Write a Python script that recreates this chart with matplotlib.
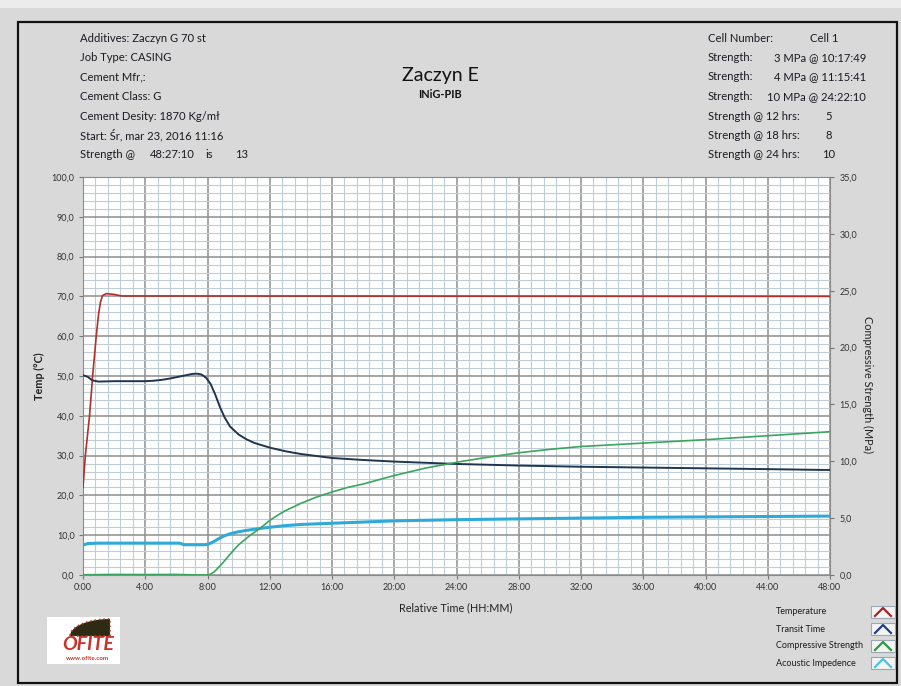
import matplotlib
matplotlib.use("Agg")
import matplotlib.pyplot as plt
from matplotlib.patches import Rectangle, Polygon
from matplotlib.lines import Line2D
from matplotlib.ticker import MultipleLocator, FixedLocator
import numpy as np

plt.rcParams['font.family'] = ['Lato', 'DejaVu Sans']

# --- data (hours since start) ---
temp_t = [0, 0.15, 0.42, 0.62, 0.85, 1.0, 1.12, 1.25, 1.5, 2.0, 2.5, 48]
temp_v = [22, 30, 40, 50, 60, 65.5, 68.5, 70.2, 70.7, 70.5, 70.1, 70.0]

transit_t = [0, 0.3, 0.6, 1.0, 2, 3, 4, 4.5, 5, 5.5, 6, 6.5, 7, 7.3, 7.6, 7.9,
             8.2, 8.5, 8.8, 9.1, 9.45, 10, 10.5, 11, 12, 13, 14, 16, 18, 20,
             22, 24, 28, 32, 36, 40, 44, 47.5, 48]
transit_v = [50.2, 49.8, 48.9, 48.6, 48.7, 48.7, 48.7, 48.8, 49.0, 49.3, 49.7,
             50.1, 50.5, 50.6, 50.4, 49.6, 48.0, 45.3, 42.2, 39.6, 37.3, 35.3,
             34.1, 33.2, 32.0, 31.1, 30.4, 29.4, 28.9, 28.5, 28.2, 27.9, 27.5,
             27.2, 27.0, 26.8, 26.6, 26.4, 26.4]

strength_t = [0, 2, 4, 6, 7.5, 8.0, 8.2, 8.4, 8.6, 8.8, 9.0, 9.25, 9.5, 9.75,
              10.0, 10.3, 10.75, 11.26, 11.6, 12, 12.5, 13, 14, 15, 16, 17, 18,
              20, 22, 24.37, 26, 28, 30, 32, 36, 40, 44, 48]
strength_v = [0.02, 0.05, 0.04, 0.05, 0.0, 0.0, 0.08, 0.25, 0.5, 0.8, 1.1, 1.5,
              1.9, 2.3, 2.65, 3.0, 3.5, 4.0, 4.35, 4.8, 5.25, 5.65, 6.3, 6.85,
              7.3, 7.7, 8.0, 8.75, 9.4, 10.0, 10.35, 10.75, 11.05, 11.3, 11.6,
              11.9, 12.25, 12.6]

acoustic_t = [0, 0.3, 1, 3, 5, 6.2, 6.5, 7.5, 7.8, 8.0, 8.2, 8.45, 8.7, 9.0,
              9.4, 9.9, 10.5, 11.2, 12, 13, 14, 16, 18, 20, 24, 28, 32, 36, 40,
              44, 48]
acoustic_v = [7.5, 7.9, 8.0, 8.0, 8.0, 8.0, 7.6, 7.6, 7.6, 7.7, 8.0, 8.5, 9.1,
              9.7, 10.3, 10.8, 11.2, 11.6, 12.0, 12.4, 12.7, 13.0, 13.3, 13.6,
              13.9, 14.1, 14.3, 14.5, 14.6, 14.7, 14.8]

left_info = ["Additives: Zaczyn G 70 st", "Job Type: CASING", "Cement Mfr,:",
             "Cement Class: G", "Cement Desity: 1870 Kg/m\u0142",
             "Start: \u015ar, mar 23, 2016 11:16"]
strength_at_end = ("48:27:10", "13")
cell_number = "Cell 1"
strength_marks = ["3 MPa @ 10:17:49", "4 MPa @ 11:15:41", "10 MPa @ 24:22:10"]
strength_hrs = [("12", "5"), ("18", "8"), ("24", "10")]

legend_names = ["Temperature", "Transit Time", "Compressive Strength", "Acoustic Impedence"]
c_temp = "#b0302a"
c_transit = "#1f3550"
c_strength = "#3aa55c"
c_acoustic = "#2faad8"
legend_colors = ["#a02828", "#1f3f8a", "#2a9a3a", "#48c4e4"]

W, H = 901, 686
fig = plt.figure(figsize=(W / 100, H / 100), dpi=100, facecolor="#d9d9d9")


def px(x, y):
    return x / W, 1 - y / H


# page strip and frame
fig.patches.append(Rectangle((0, 1 - 8 / H), 1, 8 / H, transform=fig.transFigure,
                             facecolor="#ececec", edgecolor="none", zorder=0))
fx0, fy0 = px(18, 683)
fig.patches.append(Rectangle((fx0, fy0), (897 - 18) / W, (683 - 22) / H,
                             transform=fig.transFigure, fill=False,
                             edgecolor="#111111", linewidth=1.6, zorder=1))

ax = fig.add_axes([83 / W, 1 - 575 / H, 747 / W, 398 / H])
ax.set_facecolor("white")
ax.set_xlim(0, 48)
ax.set_ylim(0, 100)

ax.xaxis.set_major_locator(MultipleLocator(4))
ax.xaxis.set_minor_locator(MultipleLocator(0.8))
ax.yaxis.set_major_locator(MultipleLocator(10))
ax.yaxis.set_minor_locator(MultipleLocator(2))
ax.grid(which="minor", color="#bfcdd8", linewidth=0.8)
ax.grid(which="major", color="#8e8e8e", linewidth=1.1)
ax.set_axisbelow(True)

ax.set_xticklabels([f"{int(h)}:00" for h in ax.get_xticks()])
ax.yaxis.set_major_locator(FixedLocator(np.arange(0, 101, 10)))
ax.set_yticklabels([f"{v:.1f}".replace(".", ",") for v in np.arange(0, 101, 10)])
ax.tick_params(which="major", length=3, width=0.8, color="#777777",
               labelsize=6.5, labelcolor="#333333", pad=3)
ax.tick_params(which="minor", length=0)
for s in ax.spines.values():
    s.set_color("#8a8a8a")

ax2 = ax.twinx()
ax2.set_ylim(0, 35)
ax2.yaxis.set_major_locator(FixedLocator(np.arange(0, 36, 5)))
ax2.set_yticklabels([f"{v:.1f}".replace(".", ",") for v in np.arange(0, 36, 5)])
ax2.tick_params(length=3, width=0.8, color="#777777", labelsize=6.5,
                labelcolor="#333333", pad=4)
for s in ax2.spines.values():
    s.set_visible(False)

ax.plot(temp_t, temp_v, color=c_temp, linewidth=1.2, zorder=3)
ax.plot(transit_t, transit_v, color=c_transit, linewidth=1.4, zorder=3)
ax.plot(acoustic_t, acoustic_v, color=c_acoustic, linewidth=2.2, zorder=3)
ax2.plot(strength_t, strength_v, color=c_strength, linewidth=1.2, zorder=3)

ax.set_ylabel("Temp (\u00b0C)", fontsize=7.8, fontweight="bold", color="#222222")
ax.yaxis.set_label_coords((45 - 83) / 747, 0.5)
ax2.set_ylabel("Compressive Strength (MPa)", fontsize=7.8, rotation=270,
               color="#222222")
ax2.yaxis.set_label_coords((873 - 83) / 747, (575 - 385) / 398)
ax.set_xlabel("Relative Time (HH:MM)", fontsize=7.8, color="#222222")
ax.xaxis.set_label_coords((456 - 83) / 747, -27 / 398)

# header block
tkw = dict(fontsize=8.1, color="#1a1a22", va="center")
ys = [38, 57.5, 77, 96.5, 116, 135.5, 155]
for y, s in zip(ys, left_info):
    fig.text(*px(80, y), s, **tkw)
fig.text(*px(80, ys[6]), "Strength @", **tkw)
fig.text(*px(195, ys[6]), strength_at_end[0], ha="right", **tkw)
fig.text(*px(205, ys[6]), "is", **tkw)
fig.text(*px(242, ys[6]), strength_at_end[1], ha="center", **tkw)

fig.text(*px(440, 76), "Zaczyn E", fontsize=14, ha="center", va="center",
         color="#111111")
fig.text(*px(440, 95), "INiG-PIB", fontsize=7.8, fontweight="bold",
         ha="center", va="center", color="#111111")

fig.text(*px(708, ys[0]), "Cell Number:", **tkw)
fig.text(*px(824, ys[0]), cell_number, ha="center", **tkw)
for y, s in zip(ys[1:4], strength_marks):
    fig.text(*px(708, y), "Strength:", **tkw)
    fig.text(*px(866, y), s, ha="right", **tkw)
for y, (h, v) in zip(ys[4:7], strength_hrs):
    fig.text(*px(708, y), f"Strength @ {h} hrs:", **tkw)
    fig.text(*px(829, y), v, ha="center", **tkw)

# legend with chevron swatches
for i, (name, col) in enumerate(zip(legend_names, legend_colors)):
    y = 612 + i * 17
    fig.text(*px(776, y), name, fontsize=6.5, color="#1a1a22", va="center")
    bx, by = px(871, y + 6)
    fig.patches.append(Rectangle((bx, by), 24 / W, 12 / H, transform=fig.transFigure,
                                 facecolor="#f4f4f4", edgecolor="#9aa8b4",
                                 linewidth=0.8, zorder=2))
    xs = [875, 883, 891]
    yv = [y + 4, y - 4, y + 4]
    fig.lines.append(Line2D([x / W for x in xs], [1 - v / H for v in yv],
                            transform=fig.transFigure, color=col,
                            linewidth=1.6, zorder=3))

# company logo
lx, ly = px(47, 664)
fig.patches.append(Rectangle((lx, ly), 73 / W, 47 / H, transform=fig.transFigure,
                             facecolor="white", edgecolor="none", zorder=2))
ang = np.linspace(np.pi / 2, np.pi, 30)
arc = [(110 + 40 * np.cos(a), 636 - 17 * np.sin(a)) for a in ang]
arc = [(110, 636)] + arc
fig.patches.append(Polygon([px(x, y) for x, y in arc], closed=True,
                           transform=fig.transFigure, facecolor="#2e2a14",
                           edgecolor="#b03a2a", linewidth=1.2, linestyle=":",
                           zorder=3))
fig.text(*px(88, 644), "OFITE", fontsize=14, fontweight="bold", style="italic",
         color="#c8322a", ha="center", va="center", zorder=4)
fig.text(*px(87, 658), "www.ofite.com", fontsize=4.5, fontweight="bold",
         color="#c8322a", ha="center", va="center", zorder=4)

fig.savefig("out.png", dpi=100, facecolor=fig.get_facecolor())
